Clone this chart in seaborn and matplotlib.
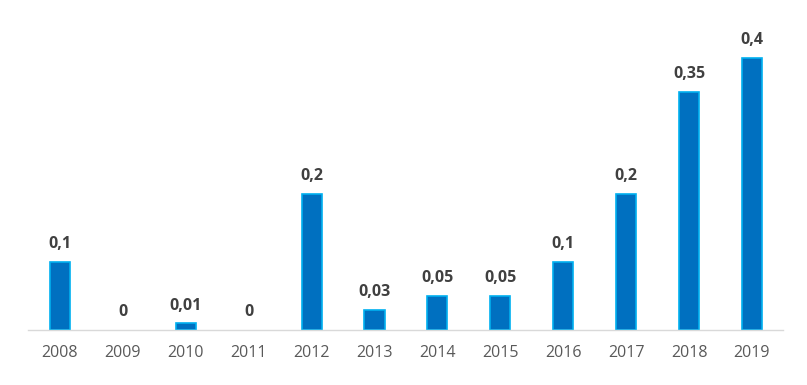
import pandas as pd
import numpy as np
import matplotlib.pyplot as plt
import seaborn as sns

# data
years = ['2008', '2009', '2010', '2011', '2012', '2013', '2014', '2015', '2016', '2017', '2018', '2019']
values = [0.1, 0, 0.01, 0, 0.2, 0.03, 0.05, 0.05, 0.1, 0.2, 0.35, 0.4]
labels = ['0,1', '0', '0,01', '0', '0,2', '0,03', '0,05', '0,05', '0,1', '0,2', '0,35', '0,4']

df = pd.DataFrame({'year': years, 'value': values})

sns.set_style('white')
plt.rcParams['font.family'] = ['Open Sans', 'DejaVu Sans']

fig = plt.figure(figsize=(8.07, 3.85), dpi=100)
ax = fig.add_axes([0.0353, 0.1429, 0.9355, 0.7948])

sns.barplot(data=df, x='year', y='value', color='#0070C0', width=0.32,
            edgecolor='#00B0F0', linewidth=1.2, saturation=1, ax=ax)

# hide outline on zero bars
for p, v in zip(ax.patches, values):
    if v == 0:
        p.set_linewidth(0)

# value labels
for i, (v, t) in enumerate(zip(values, labels)):
    ax.text(i, v + 0.014, t, ha='center', va='bottom', fontsize=11.5,
            fontweight='bold', color='#404040')

ax.set_ylim(0, 0.45)
ax.set_xlim(-0.5, len(years) - 0.5)
ax.set_xlabel('')
ax.set_ylabel('')
ax.set_yticks([])
for s in ['top', 'right', 'left']:
    ax.spines[s].set_visible(False)
ax.spines['bottom'].set_color('#D9D9D9')
ax.spines['bottom'].set_linewidth(1)
ax.tick_params(axis='x', length=0, pad=11, labelsize=11.5, labelcolor='#595959')

fig.savefig('out.png', dpi=100)
